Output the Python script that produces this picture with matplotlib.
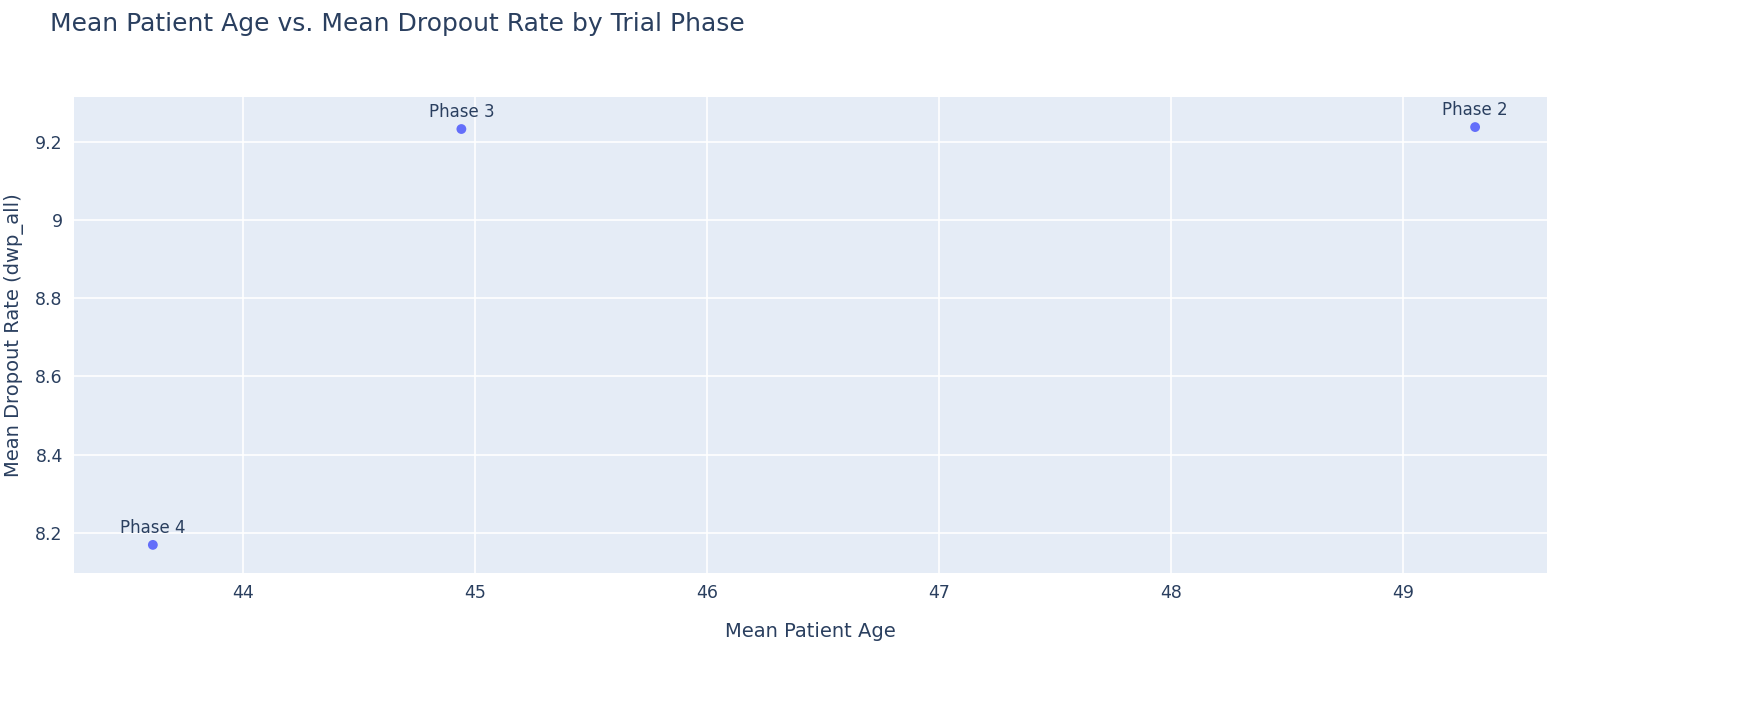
import matplotlib
matplotlib.use("Agg")
import matplotlib.pyplot as plt

phases = ["Phase 4", "Phase 3", "Phase 2"]
mean_age = [43.61, 44.94, 49.31]
mean_dropout = [8.169, 9.233, 9.238]

txt = "#2a3f5f"
fig = plt.figure(figsize=(17.53, 7.12), dpi=100)
ax = fig.add_axes([0.0422, 0.1952, 0.8403, 0.6686])
ax.set_facecolor("#E5ECF6")
ax.scatter(mean_age, mean_dropout, s=50, color="#636EFA", zorder=3, edgecolors="none")
for x, y, t in zip(mean_age, mean_dropout, phases):
    ax.annotate(t, (x, y), xytext=(0, 6), textcoords="offset points", ha="center",
                va="bottom", fontsize=12, color=txt)
ax.set_xlim(43.27, 49.62)
ax.set_ylim(8.097, 9.315)
ax.set_xticks([44, 45, 46, 47, 48, 49])
ax.set_yticks([8.2, 8.4, 8.6, 8.8, 9.0, 9.2])
ax.set_yticklabels(["8.2", "8.4", "8.6", "8.8", "9", "9.2"])
ax.grid(True, color="white", linewidth=1.2)
ax.set_axisbelow(True)
for s in ax.spines.values():
    s.set_visible(False)
ax.tick_params(length=0, labelsize=12.5, colors=txt, pad=8)
ax.set_xlabel("Mean Patient Age", fontsize=14, color=txt, labelpad=14)
ax.set_ylabel("Mean Dropout Rate (dwp_all)", fontsize=14, color=txt, labelpad=8)
fig.text(50/1753, 1-24/712, "Mean Patient Age vs. Mean Dropout Rate by Trial Phase",
         fontsize=18, color=txt, va="center", ha="left")
fig.savefig("out.png", dpi=100, facecolor="white")
